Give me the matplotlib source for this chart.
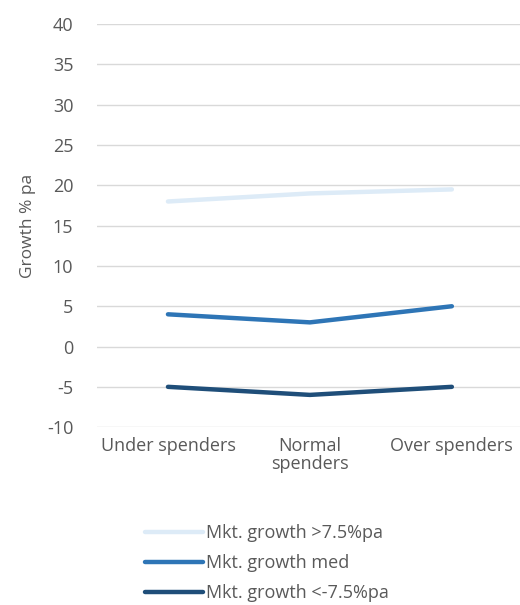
import matplotlib.pyplot as plt

categories = ["Under spenders", "Normal\nspenders", "Over spenders"]
high = [18, 19, 19.5]
med = [4, 3, 5]
low = [-5, -6, -5]
labels = ["Mkt. growth >7.5%pa", "Mkt. growth med", "Mkt. growth <-7.5%pa"]
colors = ["#DDEBF7", "#2E75B6", "#1F4E79"]

plt.rcParams['font.family'] = ['Open Sans', 'DejaVu Sans']
plt.rcParams['axes.unicode_minus'] = False
txt = "#595959"
fs = 13

fig = plt.figure(figsize=(5.2, 6.05), dpi=100)
ax = fig.add_axes([0.1865, 0.294, 0.8135, 0.666])

x = range(len(categories))
for vals, lab, c in zip([high, med, low], labels, colors):
    ax.plot(x, vals, color=c, lw=3.2, label=lab, solid_capstyle='round')

ax.set_xlim(-0.5, 2.48)
ax.set_ylim(-10, 40)
ax.set_yticks(range(-10, 41, 5))
ax.set_xticks(list(x))
ax.set_xticklabels(categories, fontsize=fs, color=txt, linespacing=1.0)
ax.tick_params(axis='y', labelsize=fs, colors=txt, length=0, pad=17)
ax.tick_params(axis='x', length=0, pad=7)
ax.grid(axis='y', color="#D9D9D9", lw=1)
ax.set_axisbelow(True)
for s in ax.spines.values():
    s.set_visible(False)
ax.set_ylabel("Growth % pa", fontsize=fs - 0.5, color=txt, labelpad=8)

fig.legend(loc='upper left', bbox_to_anchor=(0.265, 0.145), frameon=False,
           fontsize=fs, labelcolor=txt, handlelength=3.2, handletextpad=0.15,
           labelspacing=0.65, borderaxespad=0)

fig.savefig("out.png", dpi=100)
